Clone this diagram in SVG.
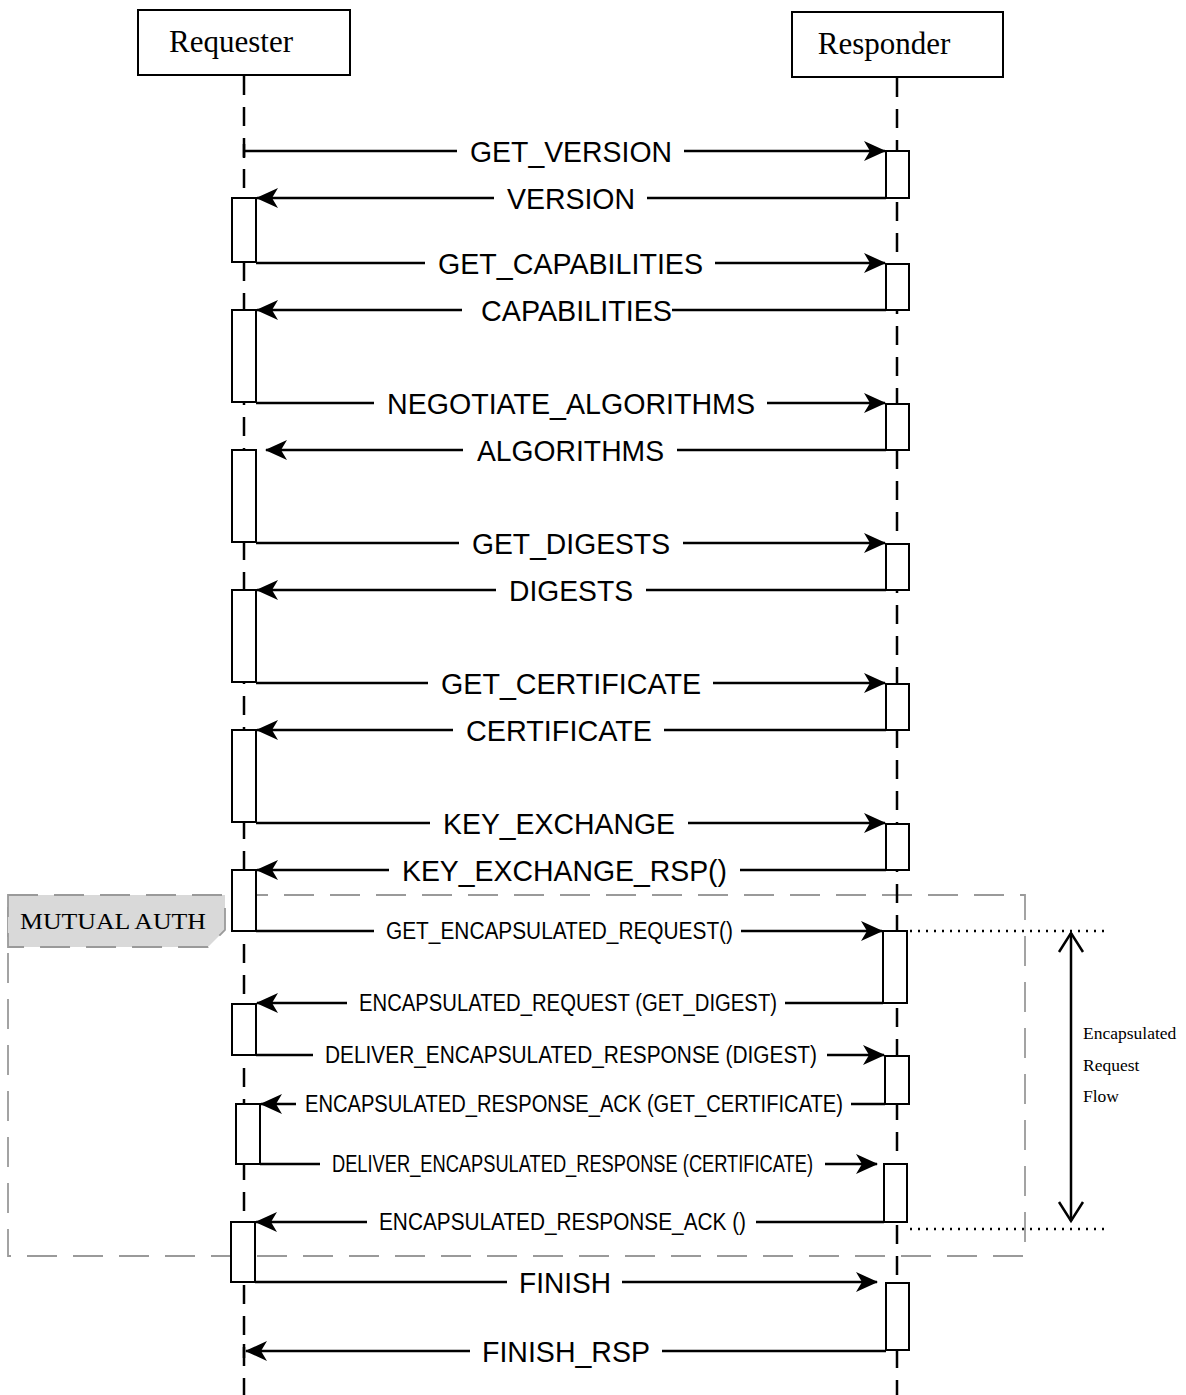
<svg xmlns="http://www.w3.org/2000/svg" width="1186" height="1395" viewBox="0 0 1186 1395">
<style>
.actor{fill:#fff;stroke:#000;stroke-width:2}
.actorText{font-family:"Liberation Serif",serif;font-size:31px;fill:#000}
.life{stroke:#000;stroke-width:2.5;stroke-dasharray:19 12;fill:none}
.act{fill:#fff;stroke:#000;stroke-width:2}
.msg{stroke:#000;stroke-width:2.5;fill:none}
.lbl{font-family:"Liberation Sans",Arial,sans-serif;font-size:30px;fill:#000}
.lbls{font-family:"Liberation Sans",Arial,sans-serif;font-size:23px;fill:#000}
.frame{fill:none;stroke:#9a9a9a;stroke-width:1.8;stroke-dasharray:30 16}
.tag{fill:#d9d9d9;stroke:#9a9a9a;stroke-width:1.8;stroke-dasharray:30 16}
.serif{font-family:"Liberation Serif",serif;fill:#000}
.dot{stroke:#000;stroke-width:2.5;stroke-dasharray:2 6;fill:none}
</style>
<defs>
<marker id="ah" markerUnits="userSpaceOnUse" markerWidth="24" markerHeight="22" refX="21" refY="10" orient="auto">
<path d="M0,0 L22,10 L0,20 L6,10 Z" fill="#000"/>
</marker>
</defs>

<g id="mutual-auth-frame">
<rect class="frame" x="8" y="895" width="1017" height="361"/>
<path class="tag" d="M8,895 L225,895 L225,930 L208,947 L8,947 Z"/>
<text class="serif" x="20" y="929" font-size="24" textLength="186" lengthAdjust="spacingAndGlyphs">MUTUAL AUTH</text>
</g>

<g id="requester">
<rect class="actor" x="138" y="10" width="212" height="65"/>
<text class="actorText" x="231" y="52" text-anchor="middle">Requester</text>
<line class="life" x1="244" y1="76" x2="244" y2="1395"/>
</g>

<g id="responder">
<rect class="actor" x="792" y="12" width="211" height="65"/>
<text class="actorText" x="884" y="54" text-anchor="middle">Responder</text>
<line class="life" x1="897" y1="78" x2="897" y2="1395"/>
</g>

<g id="activations-requester">
<rect class="act" x="232" y="198" width="24" height="64"/>
<rect class="act" x="232" y="310" width="24" height="92"/>
<rect class="act" x="232" y="450" width="24" height="92"/>
<rect class="act" x="232" y="590" width="24" height="92"/>
<rect class="act" x="232" y="730" width="24" height="92"/>
<rect class="act" x="232" y="870" width="24" height="61"/>
<rect class="act" x="232" y="1004" width="24" height="51"/>
<rect class="act" x="236" y="1104" width="24" height="60"/>
<rect class="act" x="231" y="1222" width="24" height="60"/>
</g>

<g id="activations-responder">
<rect class="act" x="886" y="151" width="23" height="47"/>
<rect class="act" x="886" y="264" width="23" height="46"/>
<rect class="act" x="886" y="404" width="23" height="46"/>
<rect class="act" x="886" y="544" width="23" height="46"/>
<rect class="act" x="886" y="684" width="23" height="46"/>
<rect class="act" x="886" y="824" width="23" height="46"/>
<rect class="act" x="883" y="931" width="24" height="72"/>
<rect class="act" x="885" y="1056" width="24" height="48"/>
<rect class="act" x="884" y="1164" width="23" height="58"/>
<rect class="act" x="886" y="1283" width="23" height="67"/>
</g>

<g id="connectors">
<!-- 1 GET_VERSION -->
<line class="msg" x1="244" y1="151" x2="457" y2="151"/>
<line class="msg" x1="684" y1="151" x2="885" y2="151" marker-end="url(#ah)"/>
<line class="msg" x1="244" y1="144" x2="244" y2="158"/>
<!-- 2 VERSION -->
<line class="msg" x1="886" y1="198" x2="647" y2="198"/>
<line class="msg" x1="494" y1="198" x2="257" y2="198" marker-end="url(#ah)"/>
<!-- 3 GET_CAPABILITIES -->
<line class="msg" x1="256" y1="263" x2="425" y2="263"/>
<line class="msg" x1="715" y1="263" x2="885" y2="263" marker-end="url(#ah)"/>
<!-- 4 CAPABILITIES -->
<line class="msg" x1="886" y1="310" x2="672" y2="310"/>
<line class="msg" x1="462" y1="310" x2="257" y2="310" marker-end="url(#ah)"/>
<!-- 5 NEGOTIATE_ALGORITHMS -->
<line class="msg" x1="256" y1="403" x2="374" y2="403"/>
<line class="msg" x1="767" y1="403" x2="885" y2="403" marker-end="url(#ah)"/>
<!-- 6 ALGORITHMS -->
<line class="msg" x1="886" y1="450" x2="677" y2="450"/>
<line class="msg" x1="463" y1="450" x2="266" y2="450" marker-end="url(#ah)"/>
<!-- 7 GET_DIGESTS -->
<line class="msg" x1="256" y1="543" x2="459" y2="543"/>
<line class="msg" x1="683" y1="543" x2="885" y2="543" marker-end="url(#ah)"/>
<!-- 8 DIGESTS -->
<line class="msg" x1="886" y1="590" x2="646" y2="590"/>
<line class="msg" x1="496" y1="590" x2="257" y2="590" marker-end="url(#ah)"/>
<!-- 9 GET_CERTIFICATE -->
<line class="msg" x1="256" y1="683" x2="428" y2="683"/>
<line class="msg" x1="713" y1="683" x2="885" y2="683" marker-end="url(#ah)"/>
<!-- 10 CERTIFICATE -->
<line class="msg" x1="886" y1="730" x2="664" y2="730"/>
<line class="msg" x1="453" y1="730" x2="257" y2="730" marker-end="url(#ah)"/>
<!-- 11 KEY_EXCHANGE -->
<line class="msg" x1="256" y1="823" x2="430" y2="823"/>
<line class="msg" x1="688" y1="823" x2="885" y2="823" marker-end="url(#ah)"/>
<!-- 12 KEY_EXCHANGE_RSP() -->
<line class="msg" x1="886" y1="870" x2="740" y2="870"/>
<line class="msg" x1="389" y1="870" x2="257" y2="870" marker-end="url(#ah)"/>
<!-- 13 GET_ENCAPSULATED_REQUEST() -->
<line class="msg" x1="256" y1="931" x2="374" y2="931"/>
<line class="msg" x1="741" y1="931" x2="882" y2="931" marker-end="url(#ah)"/>
<!-- 14 ENCAPSULATED_REQUEST (GET_DIGEST) -->
<line class="msg" x1="883" y1="1003" x2="785" y2="1003"/>
<line class="msg" x1="347" y1="1003" x2="257" y2="1003" marker-end="url(#ah)"/>
<!-- 15 DELIVER_ENCAPSULATED_RESPONSE (DIGEST) -->
<line class="msg" x1="256" y1="1055" x2="313" y2="1055"/>
<line class="msg" x1="827" y1="1055" x2="884" y2="1055" marker-end="url(#ah)"/>
<!-- 16 ENCAPSULATED_RESPONSE_ACK (GET_CERTIFICATE) -->
<line class="msg" x1="885" y1="1104" x2="851" y2="1104"/>
<line class="msg" x1="296" y1="1104" x2="261" y2="1104" marker-end="url(#ah)"/>
<!-- 17 DELIVER_ENCAPSULATED_RESPONSE (CERTIFICATE) -->
<line class="msg" x1="260" y1="1164" x2="320" y2="1164"/>
<line class="msg" x1="825" y1="1164" x2="877" y2="1164" marker-end="url(#ah)"/>
<!-- 18 ENCAPSULATED_RESPONSE_ACK () -->
<line class="msg" x1="884" y1="1222" x2="756" y2="1222"/>
<line class="msg" x1="367" y1="1222" x2="256" y2="1222" marker-end="url(#ah)"/>
<!-- 19 FINISH -->
<line class="msg" x1="255" y1="1282" x2="507" y2="1282"/>
<line class="msg" x1="622" y1="1282" x2="877" y2="1282" marker-end="url(#ah)"/>
<!-- 20 FINISH_RSP -->
<line class="msg" x1="886" y1="1351" x2="662" y2="1351"/>
<line class="msg" x1="470" y1="1351" x2="246" y2="1351" marker-end="url(#ah)"/>
<line class="msg" x1="244" y1="1344" x2="244" y2="1358"/>
<!-- encapsulated flow bracket -->
<line class="dot" x1="910" y1="931" x2="1108" y2="931"/>
<line class="dot" x1="910" y1="1229" x2="1108" y2="1229"/>
<line class="msg" x1="1071" y1="933" x2="1071" y2="1221"/>
<polyline class="msg" points="1059,952 1071,933 1083,952"/>
<polyline class="msg" points="1059,1202 1071,1221 1083,1202"/>
</g>

<g id="labels">
<text class="lbl" x="470" y="162" textLength="202" lengthAdjust="spacingAndGlyphs">GET_VERSION</text>
<text class="lbl" x="507" y="209" textLength="128" lengthAdjust="spacingAndGlyphs">VERSION</text>
<text class="lbl" x="438" y="274" textLength="265" lengthAdjust="spacingAndGlyphs">GET_CAPABILITIES</text>
<text class="lbl" x="481" y="321" textLength="191" lengthAdjust="spacingAndGlyphs">CAPABILITIES</text>
<text class="lbl" x="387" y="414" textLength="368" lengthAdjust="spacingAndGlyphs">NEGOTIATE_ALGORITHMS</text>
<text class="lbl" x="477" y="461" textLength="187" lengthAdjust="spacingAndGlyphs">ALGORITHMS</text>
<text class="lbl" x="472" y="554" textLength="198" lengthAdjust="spacingAndGlyphs">GET_DIGESTS</text>
<text class="lbl" x="509" y="601" textLength="124" lengthAdjust="spacingAndGlyphs">DIGESTS</text>
<text class="lbl" x="441" y="694" textLength="260" lengthAdjust="spacingAndGlyphs">GET_CERTIFICATE</text>
<text class="lbl" x="466" y="741" textLength="186" lengthAdjust="spacingAndGlyphs">CERTIFICATE</text>
<text class="lbl" x="443" y="834" textLength="232" lengthAdjust="spacingAndGlyphs">KEY_EXCHANGE</text>
<text class="lbl" x="402" y="881" textLength="325" lengthAdjust="spacingAndGlyphs">KEY_EXCHANGE_RSP()</text>
<text class="lbls" x="386" y="939" textLength="347" lengthAdjust="spacingAndGlyphs">GET_ENCAPSULATED_REQUEST()</text>
<text class="lbls" x="359" y="1011" textLength="418" lengthAdjust="spacingAndGlyphs">ENCAPSULATED_REQUEST (GET_DIGEST)</text>
<text class="lbls" x="325" y="1063" textLength="492" lengthAdjust="spacingAndGlyphs">DELIVER_ENCAPSULATED_RESPONSE (DIGEST)</text>
<text class="lbls" x="305" y="1112" textLength="538" lengthAdjust="spacingAndGlyphs">ENCAPSULATED_RESPONSE_ACK (GET_CERTIFICATE)</text>
<text class="lbls" x="332" y="1172" textLength="481" lengthAdjust="spacingAndGlyphs">DELIVER_ENCAPSULATED_RESPONSE (CERTIFICATE)</text>
<text class="lbls" x="379" y="1230" textLength="367" lengthAdjust="spacingAndGlyphs">ENCAPSULATED_RESPONSE_ACK ()</text>
<text class="lbl" x="519" y="1293" textLength="92" lengthAdjust="spacingAndGlyphs">FINISH</text>
<text class="lbl" x="482" y="1362" textLength="168" lengthAdjust="spacingAndGlyphs">FINISH_RSP</text>
<text class="serif" x="1083" y="1039" font-size="17.5">Encapsulated</text>
<text class="serif" x="1083" y="1071" font-size="17.5">Request</text>
<text class="serif" x="1083" y="1102" font-size="17.5">Flow</text>
</g>
</svg>
